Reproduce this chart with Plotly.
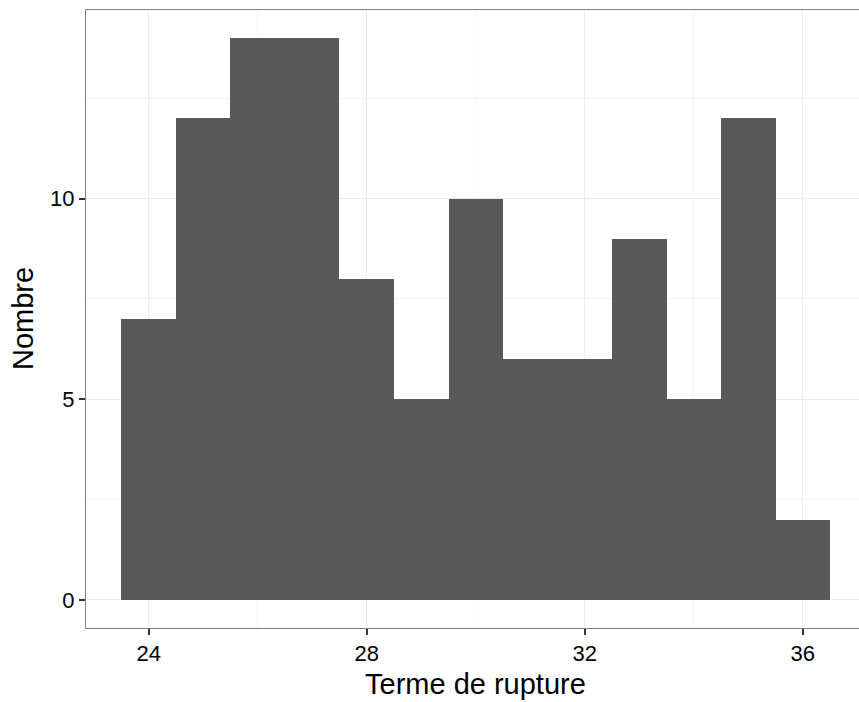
import plotly.graph_objects as go

bin_centers = [24, 25, 26, 27, 28, 29, 30, 31, 32, 33, 34, 35, 36]
counts = [7, 12, 14, 14, 8, 5, 10, 6, 6, 9, 5, 12, 2]
x_ticks = [24, 28, 32, 36]
y_ticks = [0, 5, 10]
x_label = "Terme de rupture"
y_label = "Nombre"

font = "Liberation Sans, Arial, sans-serif"

fig = go.Figure()
fig.add_trace(go.Bar(
    x=bin_centers, y=counts, width=1,
    marker=dict(color="#595959", line=dict(width=0)),
    hoverinfo="x+y",
))

fig.update_layout(
    width=859, height=702,
    margin=dict(l=86, r=0, t=10, b=74),
    paper_bgcolor="white", plot_bgcolor="white",
    bargap=0, showlegend=False,
    font=dict(family=font, color="black"),
    xaxis=dict(
        range=[22.85, 37.03], tickvals=x_ticks,
        showgrid=True, gridcolor="#EBEBEB", gridwidth=1.2,
        minor=dict(dtick=2, tick0=24, showgrid=True, gridcolor="#F4F4F4", gridwidth=0.8),
        zeroline=False,
        showline=True, mirror=True, linecolor="#7F7F7F", linewidth=1,
        ticks="outside", ticklen=6, tickwidth=2, tickcolor="#333333",
        tickfont=dict(size=22, family=font, color="black"),
    ),
    yaxis=dict(
        range=[-0.7, 14.7], tickvals=y_ticks,
        showgrid=True, gridcolor="#EBEBEB", gridwidth=1.2,
        minor=dict(dtick=2.5, tick0=0, showgrid=True, gridcolor="#F4F4F4", gridwidth=0.8),
        zeroline=False,
        showline=True, mirror=False, linecolor="#7F7F7F", linewidth=1,
        ticks="outside", ticklen=6, tickwidth=2, tickcolor="#333333",
        tickfont=dict(size=22, family=font, color="black"),
    ),
    annotations=[
        dict(text=x_label, x=30, xref="x", y=0, yref="paper",
             xanchor="center", yanchor="top", yshift=-38, showarrow=False,
             font=dict(size=29, family=font, color="black")),
        dict(text=y_label, x=0, xref="paper", y=0.5, yref="paper",
             xanchor="center", yanchor="middle", xshift=-63, textangle=-90,
             showarrow=False, font=dict(size=29, family=font, color="black")),
    ],
)

fig.write_html(
    "out.html",
    config={"displayModeBar": False},
    post_script="document.body.style.margin='0';document.body.style.overflow='hidden';",
)
